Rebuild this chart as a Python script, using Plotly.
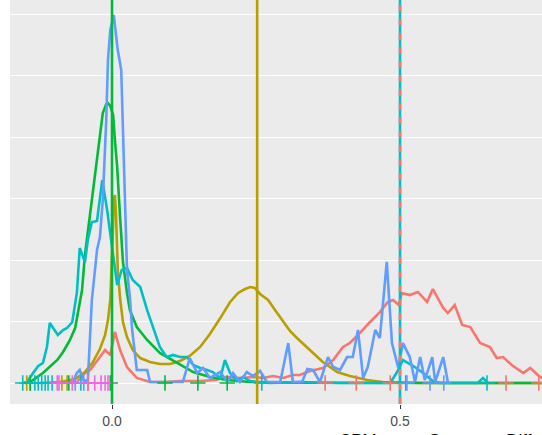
import plotly.graph_objects as go

# Group colours (6-level hue palette)
COL_RED = "#F8766D"
COL_OLIVE = "#B79F00"
COL_GREEN = "#00BA38"
COL_CYAN = "#00BFC4"
COL_BLUE = "#619CFF"
COL_PINK = "#F564E3"

# ---- density / frequency-polygon series ----
red_x = [-0.090, -0.061, -0.047, -0.038, -0.021, -0.012, -0.003, 0.005, 0.014, 0.026,
         0.043, 0.066, 0.092, 0.118, 0.153, 0.179, 0.200, 0.222, 0.245, 0.262,
         0.280, 0.297, 0.314, 0.326, 0.344, 0.366, 0.384, 0.401, 0.413, 0.427,
         0.448, 0.465, 0.479, 0.488, 0.498, 0.503, 0.517, 0.531, 0.547, 0.557,
         0.575, 0.583, 0.595, 0.608, 0.622, 0.639, 0.656, 0.668, 0.679, 0.694,
         0.714, 0.726, 0.743, 0.760]
red_y = [0.00, 0.08, 0.81, 1.06, 2.11, 2.68, 2.28, 4.15, 2.68, 1.30,
         0.41, 0.08, 0.08, 0.16, 0.16, 0.24, 0.49, 0.41, 0.49, 0.41,
         0.57, 0.41, 0.65, 0.65, 0.98, 1.22, 1.87, 2.93, 3.25, 3.90,
         4.96, 5.77, 6.59, 6.75, 6.34, 7.32, 7.15, 7.40, 6.59, 7.64,
         6.10, 5.69, 6.34, 4.72, 4.55, 3.25, 2.93, 2.03, 2.11, 1.46,
         0.81, 1.22, 0.49, 0.24]

olive_x = [-0.125, -0.090, -0.064, -0.047, -0.033, -0.021, -0.012, -0.007, -0.003, 0.000,
           0.002, 0.003, 0.005, 0.007, 0.010, 0.014, 0.019, 0.026, 0.036, 0.049,
           0.066, 0.083, 0.101, 0.118, 0.135, 0.153, 0.170, 0.188, 0.205, 0.219,
           0.231, 0.240, 0.248, 0.257, 0.271, 0.283, 0.297, 0.309, 0.321, 0.344,
           0.366, 0.391, 0.413, 0.443, 0.470, 0.535, 0.760]
olive_y = [0.00, 0.08, 0.33, 0.89, 1.71, 2.76, 3.90, 5.12, 6.75, 10.00,
           12.85, 14.88, 15.28, 13.66, 9.19, 6.91, 4.96, 3.74, 2.68, 2.03,
           1.71, 1.54, 1.54, 1.79, 2.20, 2.93, 3.98, 5.28, 6.59, 7.32,
           7.64, 7.80, 7.72, 7.24, 6.75, 5.93, 4.96, 4.23, 3.66, 2.68,
           1.71, 0.89, 0.57, 0.24, 0.08, 0.00, 0.00]

green_x = [-0.151, -0.142, -0.120, -0.108, -0.095, -0.085, -0.073, -0.064, -0.059, -0.052,
           -0.047, -0.042, -0.038, -0.033, -0.026, -0.021, -0.016, -0.010, -0.007, -0.003,
           0.002, 0.005, 0.009, 0.014, 0.019, 0.026, 0.031, 0.043, 0.061, 0.083,
           0.113, 0.141, 0.170, 0.200, 0.240, 0.326, 0.760]
green_y = [0.00, 0.08, 0.81, 1.30, 1.87, 2.52, 3.50, 4.47, 5.69, 7.56,
           10.41, 12.28, 13.50, 15.53, 17.89, 20.00, 21.95, 22.68, 22.76, 22.52,
           21.79, 19.76, 17.56, 13.50, 9.84, 7.32, 5.93, 4.55, 3.50, 2.44,
           1.63, 0.89, 0.49, 0.24, 0.08, 0.02, 0.00]

cyan_x = [-0.155, -0.148, -0.137, -0.128, -0.120, -0.113, -0.108, -0.099, -0.094, -0.085,
          -0.078, -0.069, -0.061, -0.056, -0.047, -0.042, -0.035, -0.026, -0.017, -0.009,
          0.002, 0.009, 0.017, 0.026, 0.036, 0.049, 0.061, 0.071, 0.083, 0.095,
          0.106, 0.118, 0.130, 0.141, 0.153, 0.165, 0.175, 0.188, 0.196, 0.205,
          0.217, 0.227, 0.240, 0.252, 0.274, 0.326, 0.396, 0.483, 0.495, 0.505,
          0.523, 0.540, 0.557, 0.569, 0.635, 0.644, 0.653]
cyan_y = [0.00, 0.08, 0.81, 1.38, 1.63, 2.93, 4.88, 4.31, 3.90, 4.31,
          4.47, 4.96, 7.32, 10.98, 9.84, 11.63, 13.09, 13.17, 16.50, 14.23,
          10.24, 7.97, 9.19, 9.35, 8.37, 7.80, 5.93, 4.55, 2.93, 2.11,
          2.28, 2.11, 2.11, 1.46, 1.22, 1.06, 0.89, 0.41, 1.87, 0.81,
          0.16, 0.49, 0.16, 0.08, 0.00, 0.08, 0.00, 0.00, 0.89, 1.87,
          1.38, 0.81, 0.16, 0.00, 0.00, 0.41, 0.00]

blue_x = [-0.068, -0.061, -0.056, -0.050, -0.042, -0.035, -0.026, -0.021, -0.016, -0.010,
          -0.007, -0.003, 0.003, 0.010, 0.016, 0.019, 0.023, 0.026, 0.031, 0.035,
          0.043, 0.061, 0.066, 0.123, 0.135, 0.148, 0.158, 0.170, 0.188, 0.200,
          0.210, 0.222, 0.234, 0.245, 0.257, 0.269, 0.292, 0.306, 0.314, 0.330,
          0.339, 0.349, 0.361, 0.375, 0.384, 0.396, 0.408, 0.418, 0.427, 0.436,
          0.444, 0.457, 0.465, 0.477, 0.486, 0.497, 0.505, 0.517, 0.526, 0.535,
          0.543, 0.556, 0.561, 0.575, 0.583]
blue_y = [0.08, 0.81, 1.06, 0.24, 0.16, 6.75, 10.81, 11.87, 14.88, 21.38,
          26.26, 28.70, 29.92, 27.07, 25.45, 20.57, 14.88, 9.19, 6.99, 4.31,
          1.06, 1.06, 0.08, 0.08, 2.03, 0.81, 1.22, 0.41, 0.89, 0.08,
          0.81, 0.08, 0.89, 0.57, 0.98, 0.08, 0.08, 3.25, 0.08, 0.08,
          1.14, 1.06, 0.08, 2.11, 1.30, 1.06, 2.11, 2.11, 4.31, 0.41,
          1.30, 4.31, 3.66, 9.84, 3.25, 1.22, 3.25, 2.11, 0.08, 2.11,
          0.24, 2.11, 0.08, 2.11, 0.08]

# ---- per-group observations drawn as "+" marks along zero ----
rug_red = [-0.142, -0.042, 0.370, 0.424, 0.483, 0.684, 0.741]
rug_olive = [-0.148, -0.087, -0.078, -0.042]
rug_green = [-0.142, -0.075, -0.003, 0.092, 0.149, 0.200]
rug_cyan = [-0.155, -0.134, -0.128, -0.122, -0.116, -0.111, -0.104, -0.054, 0.260, 0.510, 0.651]
rug_blue = [-0.064, -0.049, 0.512, 0.552, 0.576]
rug_pink = [-0.095, -0.092, -0.069, -0.042, -0.030, -0.019, -0.012, -0.007]

# ---- reference lines ----
vline_green = 0.0
vline_olive = 0.252
vline_red_cyan = 0.5

x_ticks = [0.0, 0.5]
x_tick_text = ["0.0", "0.5"]
y_grid = [0, 5, 10, 15, 20, 25, 30]

LW = 2.6

fig = go.Figure()

series = [
    (red_x, red_y, COL_RED),
    (olive_x, olive_y, COL_OLIVE),
    (green_x, green_y, COL_GREEN),
    (cyan_x, cyan_y, COL_CYAN),
    (blue_x, blue_y, COL_BLUE),
]
for xs, ys, col in series:
    fig.add_trace(go.Scatter(x=xs, y=ys, mode="lines",
                             line=dict(color=col, width=LW),
                             hoverinfo="skip", showlegend=False))

rugs = [
    (rug_red, COL_RED),
    (rug_olive, COL_OLIVE),
    (rug_green, COL_GREEN),
    (rug_cyan, COL_CYAN),
    (rug_blue, COL_BLUE),
    (rug_pink, COL_PINK),
]
for xs, col in rugs:
    fig.add_trace(go.Scatter(x=xs, y=[0] * len(xs), mode="markers",
                             marker=dict(symbol="cross-thin", size=11,
                                         line=dict(color=col, width=1.6)),
                             hoverinfo="skip", showlegend=False))

# vertical reference lines
fig.add_shape(type="line", xref="x", yref="paper", x0=vline_green, x1=vline_green,
              y0=0, y1=1, line=dict(color=COL_GREEN, width=LW), layer="above")
fig.add_shape(type="line", xref="x", yref="paper", x0=vline_olive, x1=vline_olive,
              y0=0, y1=1, line=dict(color=COL_OLIVE, width=LW), layer="above")
fig.add_shape(type="line", xref="x", yref="paper", x0=vline_red_cyan, x1=vline_red_cyan,
              y0=0, y1=1, line=dict(color=COL_CYAN, width=LW), layer="above")
fig.add_shape(type="line", xref="x", yref="paper", x0=vline_red_cyan, x1=vline_red_cyan,
              y0=0, y1=1, line=dict(color=COL_RED, width=LW, dash="7px,7px"), layer="above")

# axis title (sits mostly below the visible page)
fig.add_annotation(text="CPM mean Summary Difference", xref="paper", yref="paper",
                   x=0.6147, y=-0.062, xanchor="left", yanchor="top", showarrow=False,
                   font=dict(family="Liberation Sans, Arial, sans-serif", size=17, color="#000000"))

fig.update_layout(
    width=542, height=435,
    margin=dict(l=10, r=0, t=0, b=31),
    paper_bgcolor="#FFFFFF",
    plot_bgcolor="#EBEBEB",
    showlegend=False,
    font=dict(family="Liberation Sans, Arial, sans-serif"),
    xaxis=dict(range=[-0.1771, 0.7465], tickvals=x_ticks, ticktext=x_tick_text,
               ticks="outside", ticklen=4, tickcolor="#333333", tickwidth=1,
               tickfont=dict(size=14, color="#4D4D4D"),
               showgrid=True, gridcolor="#FFFFFF", gridwidth=1.3,
               zeroline=False, showline=False, fixedrange=True),
    yaxis=dict(range=[-1.707, 31.14], tickvals=y_grid, showticklabels=False,
               ticks="", showgrid=True, gridcolor="#FFFFFF", gridwidth=1.3,
               zeroline=False, showline=False, fixedrange=True),
)

fig.write_html("out.html")
